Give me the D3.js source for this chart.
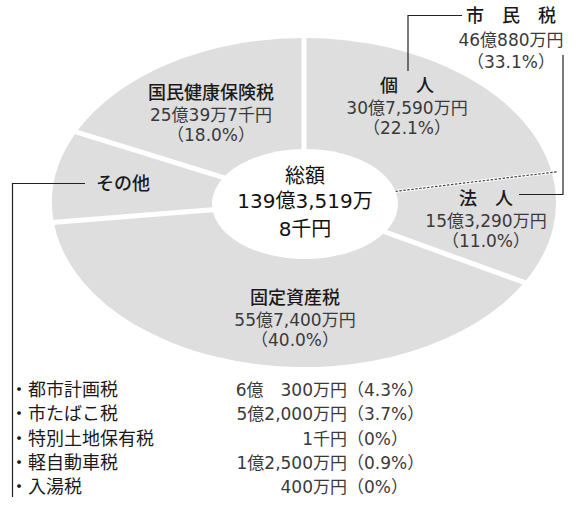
<!DOCTYPE html>
<html>
<head>
<meta charset="utf-8">
<script src="https://cdn.jsdelivr.net/npm/d3@7"></script>
<style>
  body { margin: 0; background: #fff; }
  text { font-family: "Noto Sans CJK JP", "Noto Sans", sans-serif; }
  .num { font-family: "DejaVu Sans", "Noto Sans CJK JP", sans-serif; }
</style>
</head>
<body>
<script>
// slices, clockwise from the top (values in 万円)
var sliceNames = ["個　人", "法　人", "固定資産税", "その他", "国民健康保険税"];
var sliceValues = [307590, 153290, 557400, 125200.1, 250039.7];
var sliceAmounts = ["30億7,590万円", "15億3,290万円", "55億7,400万円", "", "25億39万7千円"];
var slicePercents = ["（22.1%）", "（11.0%）", "（40.0%）", "", "（18.0%）"];

// breakdown of その他
var otherNames = ["都市計画税", "市たばこ税", "特別土地保有税", "軽自動車税", "入湯税"];
var otherAmounts = ["6億　300万円", "5億2,000万円", "1千円", "1億2,500万円", "400万円"];
var otherPercents = ["（4.3%）", "（3.7%）", "（0%）", "（0.9%）", "（0%）"];

var width = 578, height = 511;
var cx = 304, cy = 202.5, rx = 252, ry = 164.5;

var svg = d3.select("body").append("svg")
    .attr("width", width)
    .attr("height", height);

var pie = d3.pie().sort(null).value(function(d){ return d; });
var arcs = pie(sliceValues);

var arc = d3.arc().innerRadius(0).outerRadius(1);

// ellipse-shaped pie: draw in unit circle and stretch
svg.append("g")
    .attr("transform", "translate(" + cx + "," + cy + ") scale(" + rx + "," + ry + ")")
  .selectAll("path")
    .data(arcs)
  .enter().append("path")
    .attr("d", arc)
    .attr("fill", "#dedede");

// separators between slices
function edge(a){
    return [cx + rx * 1.02 * Math.sin(a), cy - ry * 1.02 * Math.cos(a)];
}
arcs.forEach(function(d, i){
    var p = edge(d.startAngle);
    if (i == 1) {
        // 個人 / 法人 : dotted boundary
        svg.append("line")
            .attr("x1", cx).attr("y1", cy).attr("x2", p[0]).attr("y2", p[1])
            .attr("stroke", "#fff").attr("stroke-width", 3);
        svg.append("line")
            .attr("x1", cx).attr("y1", cy).attr("x2", p[0]).attr("y2", p[1])
            .attr("stroke", "#444").attr("stroke-width", 1.2)
            .attr("stroke-dasharray", "2.5,1.5");
    } else {
        svg.append("line")
            .attr("x1", cx).attr("y1", cy).attr("x2", p[0]).attr("y2", p[1])
            .attr("stroke", "#fff").attr("stroke-width", 5);
    }
});

// hole
svg.append("ellipse")
    .attr("cx", 305).attr("cy", 204)
    .attr("rx", 93).attr("ry", 55)
    .attr("fill", "#fff");

// center total
var center = svg.append("g").attr("text-anchor", "middle").attr("fill", "#111");
center.append("text").attr("x", 305).attr("y", 183).style("font-size", "20px").text("総額");
center.append("text").attr("x", 305).attr("y", 208).attr("class", "num").style("font-size", "20px").text("139億3,519万");
center.append("text").attr("x", 305).attr("y", 236).attr("class", "num").style("font-size", "20px").text("8千円");

// slice labels
var labelPos = [[407, 92], [486, 205], [295, 304], [123, 190], [211, 99]];
var labels = svg.selectAll(".slice_label")
    .data(arcs)
  .enter().append("g")
    .attr("class", "slice_label")
    .attr("text-anchor", "middle")
    .attr("transform", function(d, i){ return "translate(" + labelPos[i][0] + "," + labelPos[i][1] + ")"; });
labels.append("text")
    .style("font-size", "18px")
    .style("font-weight", 500)
    .attr("fill", "#1a1a1a")
    .text(function(d, i){ return sliceNames[i]; });
labels.append("text")
    .attr("class", "num")
    .attr("y", 22)
    .style("font-size", "17px")
    .attr("fill", "#3a3a3a")
    .text(function(d, i){ return sliceAmounts[i]; });
labels.append("text")
    .attr("class", "num")
    .attr("y", 42)
    .style("font-size", "17px")
    .attr("fill", "#3a3a3a")
    .text(function(d, i){ return slicePercents[i]; });

// 市民税 (個人 + 法人)
var city = svg.append("g").attr("text-anchor", "middle");
city.append("text").attr("x", 511).attr("y", 22)
    .style("font-size", "18px").style("font-weight", 500).attr("fill", "#1a1a1a")
    .text("市　民　税");
city.append("text").attr("class", "num").attr("x", 511).attr("y", 46)
    .style("font-size", "17px").attr("fill", "#3a3a3a")
    .text("46億880万円");
city.append("text").attr("class", "num").attr("x", 511).attr("y", 68)
    .style("font-size", "17px").attr("fill", "#3a3a3a")
    .text("（33.1%）");

// leader lines
svg.append("path")
    .attr("d", "M408,71V15.5H462")
    .attr("fill", "none").attr("stroke", "#222").attr("stroke-width", 1.2);
svg.append("path")
    .attr("d", "M563,55V194.5H519")
    .attr("fill", "none").attr("stroke", "#222").attr("stroke-width", 1.2);
svg.append("path")
    .attr("d", "M85,183.5H12.5V497")
    .attr("fill", "none").attr("stroke", "#222").attr("stroke-width", 1.2);

// breakdown list
var rowY = d3.scaleBand().domain(otherNames).range([376.85, 498.35]);
var rows = svg.selectAll(".other_row")
    .data(otherNames)
  .enter().append("g")
    .attr("class", "other_row")
    .attr("transform", function(d){ return "translate(0," + (rowY(d) + rowY.bandwidth() / 2 + 7) + ")"; })
    .style("font-size", "18px")
    .attr("fill", "#1a1a1a");
rows.append("text").attr("x", 10).text(function(d){ return "・" + d; });
rows.append("text").attr("class", "num").attr("x", 347).attr("text-anchor", "end")
    .attr("fill", "#3a3a3a").style("font-size", "17px")
    .text(function(d, i){ return otherAmounts[i]; });
rows.append("text").attr("class", "num").attr("x", 347)
    .attr("fill", "#3a3a3a").style("font-size", "17px")
    .text(function(d, i){ return otherPercents[i]; });
</script>
</body>
</html>
